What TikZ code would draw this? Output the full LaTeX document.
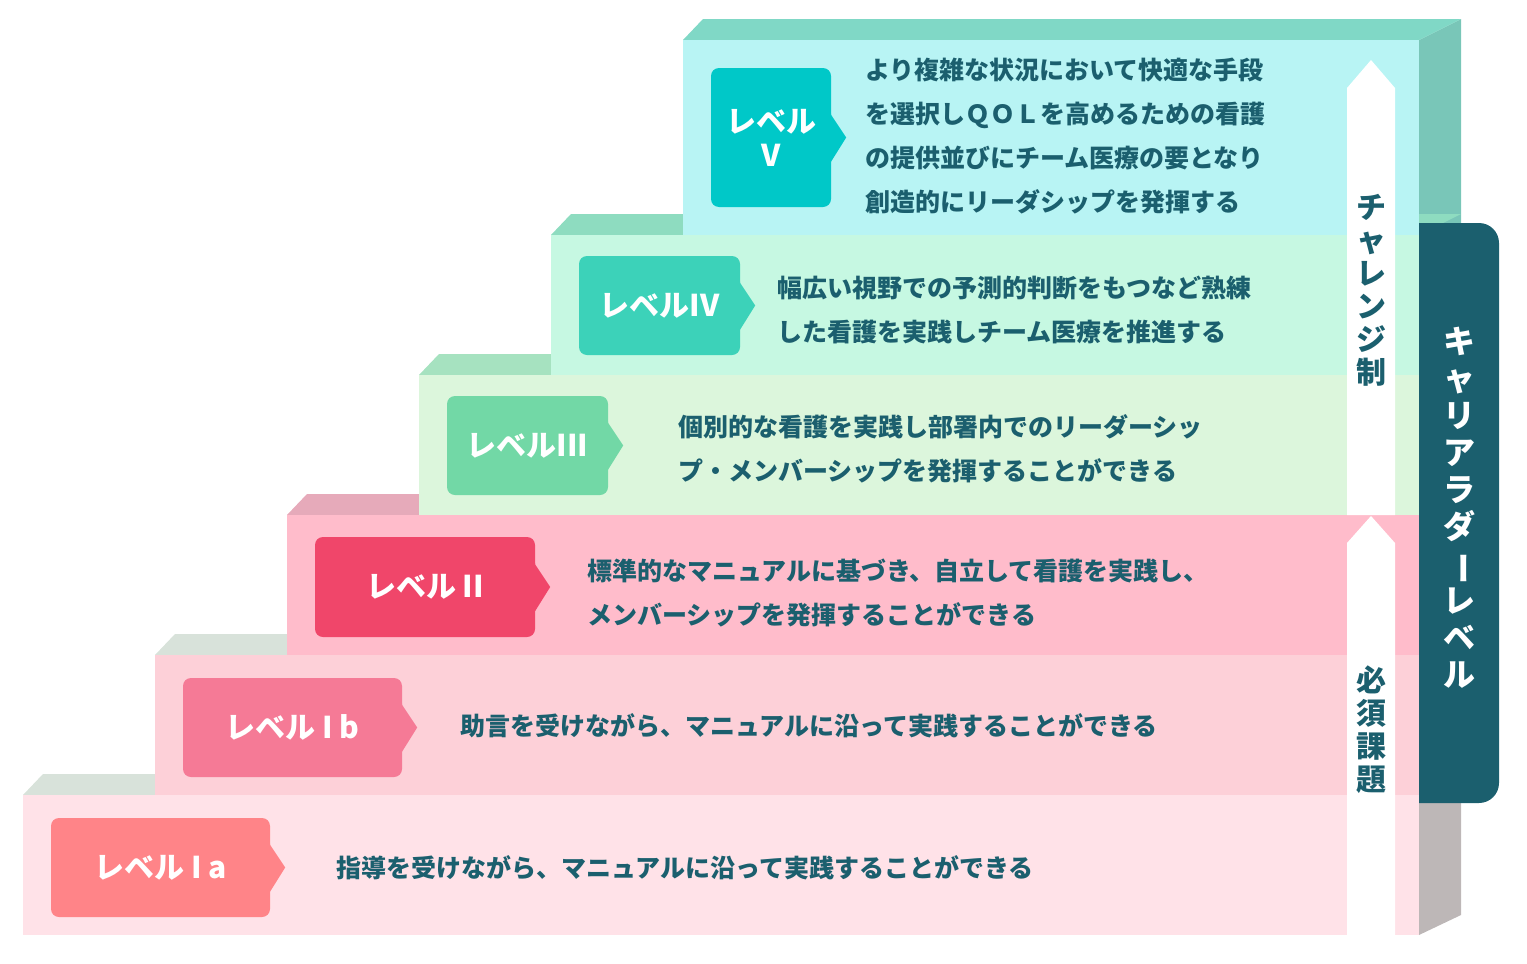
\documentclass[tikz,border=0pt]{standalone}
\usepackage{fontspec}
\setmainfont{Noto Sans CJK JP}
\usetikzlibrary{positioning}
\definecolor{ink}{HTML}{1B5F6E}
\definecolor{frontV}{HTML}{B8F4F4}
\definecolor{frontIV}{HTML}{C6F8E2}
\definecolor{frontIII}{HTML}{DCF6DC}
\definecolor{frontII}{HTML}{FFBCCB}
\definecolor{frontIb}{HTML}{FDD0D8}
\definecolor{frontIa}{HTML}{FFE2E8}
\definecolor{topV}{HTML}{80D8C6}
\definecolor{topIV}{HTML}{8EDCC0}
\definecolor{topIII}{HTML}{A6E2C0}
\definecolor{topII}{HTML}{E6AABA}
\definecolor{topIb}{HTML}{D8E2DA}
\definecolor{topIa}{HTML}{D8E2DA}
\definecolor{sideUp}{HTML}{79C6B8}
\definecolor{sideLow}{HTML}{BDB7B7}
\definecolor{badgeV}{HTML}{00C8C8}
\definecolor{badgeIV}{HTML}{3CD2B9}
\definecolor{badgeIII}{HTML}{72D8A6}
\definecolor{badgeII}{HTML}{F0466A}
\definecolor{badgeIb}{HTML}{F57A96}
\definecolor{badgeIa}{HTML}{FF8488}

\begin{document}
\begin{tikzpicture}[x=1pt,y=-1pt, font=\bfseries,
  badge/.style = {fill=#1, rounded corners=8pt, text=white, font=\bfseries\fontsize{30}{34}\selectfont, align=center, inner sep=0pt},
  desc/.style = {anchor=west, text=ink, align=left, font=\bfseries\fontsize{25}{44}\selectfont, inner sep=0pt},
  vert/.style = {text=ink, align=center, font=\bfseries\fontsize{30}{33}\selectfont, inner sep=0pt}]
\useasboundingbox (0,0) rectangle (1527,964);
% side face
\fill[sideUp] (1419,40) -- (1461,19) -- (1461,500) -- (1419,520) -- cycle;
\fill[sideLow] (1419,520) -- (1461,500) -- (1461,915) -- (1419,935) -- cycle;
% steps, bottom to top
\foreach \xl/\yt/\yb/\lv in {23/795/935/Ia, 155/655/795/Ib, 287/515/655/II, 419/375/515/III, 551/235/375/IV, 683/40/235/V}{
  \fill[top\lv] (\xl,\yt) -- (\xl+20,\yt-21) -- (1461,\yt-21) -- (1419,\yt) -- cycle;
  \fill[front\lv] (\xl,\yt) rectangle (1419,\yb);
}
% badges
\node[badge=badgeV, minimum width=120pt, minimum height=139pt] (bV) at (771,137.5) {レベル\\V};
\node[badge=badgeIV, minimum width=161pt, minimum height=99pt] (bIV) at (659.5,305.5) {レベルIV};
\node[badge=badgeIII, minimum width=161pt, minimum height=99pt] (bIII) at (527.5,445.5) {レベルIII};
\node[badge=badgeII, minimum width=220pt, minimum height=100pt] (bII) at (425,587) {レベル II};
\node[badge=badgeIb, minimum width=219pt, minimum height=99pt] (bIb) at (292.5,727.5) {レベル I b};
\node[badge=badgeIa, minimum width=219pt, minimum height=99pt] (bIa) at (160.5,867.5) {レベル I a};
\foreach \b/\c in {bV/badgeV, bIV/badgeIV, bIII/badgeIII, bII/badgeII, bIb/badgeIb, bIa/badgeIa}
  \fill[\c] ([yshift=24pt]\b.east) -- ([xshift=-1pt,yshift=24pt]\b.east) -- ([xshift=15pt]\b.east) -- ([yshift=-24pt]\b.east) -- cycle;
% descriptions
\node[desc] (dV) at (865,136) {より複雑な状況において快適な手段\\を選択しＱＯＬを高めるための看護\\の提供並びにチーム医療の要となり\\創造的にリーダシップを発揮する};
\node[desc] (dIV) at (777,309.5) {幅広い視野での予測的判断をもつなど熟練\\した看護を実践しチーム医療を推進する};
\node[desc] (dIII) at (678,449) {個別的な看護を実践し部署内でのリーダーシッ\\プ・メンバーシップを発揮することができる};
\node[desc] (dII) at (587,593) {標準的なマニュアルに基づき、自立して看護を実践し、\\メンバーシップを発揮することができる};
\node[desc] (dIb) at (460,726) {助言を受けながら、マニュアルに沿って実践することができる};
\node[desc] (dIa) at (336,868) {指導を受けながら、マニュアルに沿って実践することができる};
% white arrows
\fill[white] (1347,515) -- (1347,88) -- (1371,60) -- (1395,88) -- (1395,515) -- cycle;
\fill[white] (1347,935) -- (1347,543) -- (1371,516) -- (1395,543) -- (1395,935) -- cycle;
\node[vert] (challenge) at (1371,290) {チ\\ャ\\レ\\ン\\ジ\\制};
\node[vert] (required) at (1371,730) {必\\須\\課\\題};
% career ladder box
\fill[ink] (1419,223) -- (1479,223) arc[start angle=90, end angle=0, radius=20pt] -- (1499,783) arc[start angle=0, end angle=-90, radius=20pt] -- (1419,803) -- cycle;
\node[vert, text=white, font=\bfseries\fontsize{32}{37}\selectfont] (ladder) at (1459,508) {キ\\ャ\\リ\\ア\\ラ\\ダ\\\rotatebox[origin=c]{-90}{ー}\\レ\\ベ\\ル};
\end{tikzpicture}
\end{document}
